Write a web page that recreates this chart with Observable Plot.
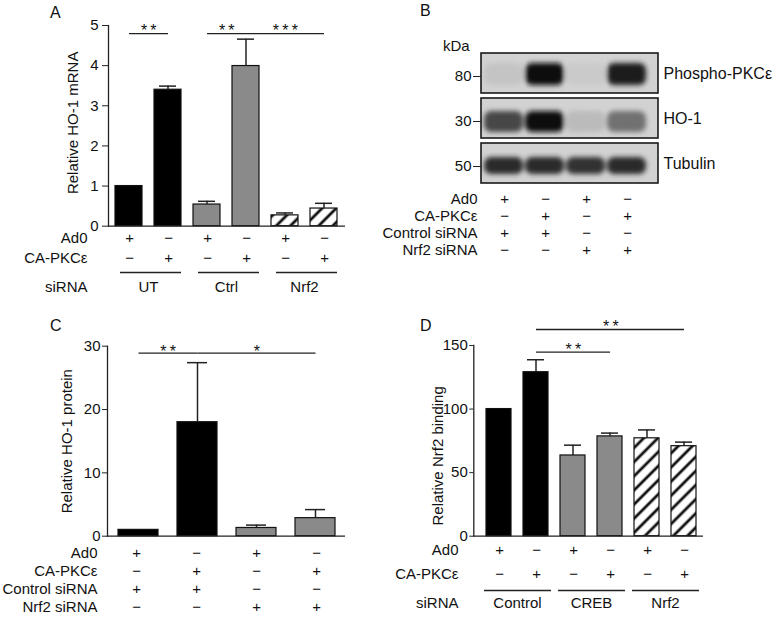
<!DOCTYPE html>
<html><head><meta charset="utf-8">
<script src="https://cdn.jsdelivr.net/npm/d3@7"></script>
<script src="https://cdn.jsdelivr.net/npm/@observablehq/plot@0.6"></script>
<style>
body{margin:0;background:#fff;}
#fig{position:relative;width:777px;height:621px;font-family:"Liberation Sans",Arial,Helvetica,sans-serif;color:#111;background:#fff;}
#fig svg{position:absolute;left:0;top:0;}
.lbl{position:absolute;line-height:1;white-space:nowrap;}
</style></head><body><div id="fig"></div>
<script>
// ---------- Panel A data ----------
const aCats = ["UT|Ad0","UT|CA","Ctrl|Ad0","Ctrl|CA","Nrf2|Ad0","Nrf2|CA"];
const aGroups = ["UT","UT","Ctrl","Ctrl","Nrf2","Nrf2"];
const aMean = [1.0, 3.40, 0.54, 3.99, 0.27, 0.44];
const aSem  = [0, 0.09, 0.08, 0.67, 0.06, 0.13];
const aAd0 = ["+","−","+","−","+","−"];
const aCA  = ["−","+","−","+","−","+"];
const aSigFrom = ["UT|Ad0","Ctrl|Ad0","Ctrl|CA"];
const aSigTo   = ["UT|CA","Ctrl|CA","Nrf2|CA"];
const aSigY    = [4.8, 4.8, 4.8];
const aSigLabel = ["**","**","***"];
const aTicks = [0,1,2,3,4,5];

// ---------- Panel B data ----------
const blotRows = ["Phospho-PKCε","HO-1","Tubulin"];
const blotKDa = [80, 30, 50];
const lanes = ["1","2","3","4"];
const phosphoBand = [0.07, 1.0, 0.04, 0.95];
const ho1Band     = [0.72, 1.0, 0.12, 0.5];
const tubulinBand = [0.86, 0.86, 0.82, 0.86];
const bAd0 = ["+","−","+","−"];
const bCA  = ["−","+","−","+"];
const bCtrl = ["+","+","−","−"];
const bNrf2 = ["−","−","+","+"];

// ---------- Panel C data ----------
const cCats = ["Ctrl|Ad0","Ctrl|CA","Nrf2|Ad0","Nrf2|CA"];
const cGroups = ["Control","Control","Nrf2","Nrf2"];
const cMean = [1.0, 18.0, 1.3, 2.85];
const cSem  = [0, 9.4, 0.45, 1.35];
const cSigFrom = ["Ctrl|Ad0","Ctrl|CA"];
const cSigTo   = ["Ctrl|CA","Nrf2|CA"];
const cSigY    = [28.9, 28.9];
const cSigLabel = ["**","*"];
const cTicks = [0,10,20,30];

// ---------- Panel D data ----------
const dCats = ["Control|Ad0","Control|CA","CREB|Ad0","CREB|CA","Nrf2|Ad0","Nrf2|CA"];
const dGroups = ["Control","Control","CREB","CREB","Nrf2","Nrf2"];
const dMean = [100, 129, 63.5, 78.5, 77, 70.8];
const dSem  = [0, 9.8, 8.1, 2.6, 6.6, 3.2];
const dAd0 = ["+","−","+","−","+","−"];
const dCA  = ["−","+","−","+","−","+"];
const dSigFrom = ["Control|CA","Control|CA"];
const dSigTo   = ["CREB|CA","Nrf2|CA"];
const dSigY    = [144.8, 162.6];
const dSigLabel = ["**","**"];
const dTicks = [0,50,100,150];

// ---------- helpers ----------
const FONT = '"Liberation Sans", Arial, Helvetica, sans-serif';
const W = 777, H = 621;
const fig = document.getElementById("fig");
const baseStyle = {background:"transparent", fontFamily:FONT, color:"#111", overflow:"visible"};

function hatchDefs(id) {
  return () => {
    const defs = d3.create("svg:defs");
    const p = defs.append("pattern").attr("id", id).attr("patternUnits","userSpaceOnUse")
      .attr("width", 10).attr("height", 10).attr("patternTransform","rotate(45)");
    p.append("rect").attr("width",10).attr("height",10).attr("fill","white");
    p.append("line").attr("x1",5).attr("y1",-1).attr("x2",5).attr("y2",11)
      .attr("stroke","#111").attr("stroke-width",2.8);
    return defs.node();
  };
}
function blurDefs(id) {
  return () => {
    const defs = d3.create("svg:defs");
    defs.append("filter").attr("id", id).attr("x","-30%").attr("y","-80%").attr("width","160%").attr("height","260%")
      .append("feGaussianBlur").attr("stdDeviation", 2.6);
    return defs.node();
  };
}

function barPanel(o) {
  const n = o.cats.length;
  const step = (o.xRange[1]-o.xRange[0])/(n - o.padI + 2*o.padO);
  const data = o.cats.map((c,i)=>({cat:c, group:o.groups[i], mean:o.mean[i], sem:o.sem[i]}));
  const errs = data.filter(d=>d.sem>0);
  const sig = o.sigFrom.map((f,i)=>({from:f, to:o.sigTo[i], y:o.sigY[i], label:o.sigLabel[i]}));
  const groupsU = [...new Set(o.groups)];
  const marks = [];
  if (o.hatchId) marks.push(hatchDefs(o.hatchId));
  marks.push(Plot.barY(data, {x:"cat", y:"mean", fill:"group", stroke:"#111", strokeWidth:1.2}));
  marks.push(Plot.ruleX(errs, {x:"cat", y1:"mean", y2:d=>d.mean+d.sem, stroke:"#222", strokeWidth:1.5}));
  marks.push(Plot.tickY(errs, {x:"cat", y:d=>d.mean+d.sem, stroke:"#222", strokeWidth:1.5, inset:o.capInset}));
  marks.push(Plot.ruleY([0], {stroke:"#222", strokeWidth:1.3}));
  marks.push(Plot.frame({anchor:"left", stroke:"#222", strokeWidth:1.3}));
  marks.push(Plot.axisY({ticks:o.yTicks, tickFormat:d=>String(d), tickSize:o.tickSize, tickPadding:o.tickPadding, fontSize:15, label:null, stroke:"#222"}));
  marks.push(Plot.link(sig, {x1:"from", x2:"to", y1:"y", y2:"y", stroke:"#222", strokeWidth:1.3}));
  sig.forEach(d => {
    const k = o.cats.indexOf(d.to) - o.cats.indexOf(d.from);
    marks.push(Plot.text([d], {x:"from", y:"y", text:t=>t.label.split("").join("\u2009"), dx:k*step/2, dy:o.starDy, fontSize:16}));
  });
  marks.push(Plot.text([o.yLabel], {frameAnchor:"left", textAnchor:"middle", rotate:-90, dx:o.labelDx, dy:o.labelDy, fontSize:15}));
  return Plot.plot({width:W, height:H, marginLeft:o.left, marginRight:o.right, marginTop:o.top, marginBottom:o.bottom,
    x:{domain:o.cats, range:o.xRange, paddingInner:o.padI, paddingOuter:o.padO, axis:null},
    y:{domain:o.yDomain, axis:null},
    color:{domain:groupsU, range:o.fills},
    style:baseStyle, marks});
}

function signTable(o) {
  const cells = [];
  o.rowNames.forEach((r, ri) => o.cats.forEach((c, ci) => cells.push({row:r, cat:c, sign:o.rows[ri][ci]})));
  return Plot.plot({width:W, height:H, marginLeft:o.left, marginRight:0, marginTop:o.top, marginBottom:o.bottom,
    x:{domain:o.cats, range:o.xRange, paddingInner:o.padI, paddingOuter:o.padO, axis:null},
    y:{type:"point", domain:o.rowNames, padding:0, axis:null},
    style:baseStyle,
    marks:[
      Plot.text(cells, {x:"cat", y:"row", text:"sign", fontSize:15, fill:"#111"}),
      Plot.axisY({tickSize:0, tickPadding:0, fontSize:15, label:null})
    ]});
}

function groupRow(o) {
  const groupsU = [...new Set(o.groups)];
  return Plot.plot({width:W, height:H, marginLeft:o.left, marginRight:0, marginTop:o.top, marginBottom:o.bottom,
    x:{domain:groupsU, range:o.xRange, paddingInner:o.padI/2, paddingOuter:o.padO/2, axis:null},
    y:{type:"point", domain:["rule","label"], padding:0, axis:null},
    style:baseStyle,
    marks:[
      Plot.tickY(groupsU, {x:d=>d, y:()=>"rule", stroke:"#222", strokeWidth:1.3, insetLeft:o.insetL, insetRight:o.insetR}),
      Plot.text(groupsU, {x:d=>d, y:()=>"label", fontSize:15}),
      Plot.text([o.title], {y:()=>"label", frameAnchor:"left", textAnchor:"end", fontSize:15})
    ]});
}

function blotPanel() {
  const intens = [phosphoBand, ho1Band, tubulinBand];
  const bands = [];
  blotRows.forEach((r, ri) => lanes.forEach((l, li) => bands.push({row:r, lane:l, v:intens[ri][li]})));
  const insets = {"Phospho-PKCε":[10,8], "HO-1":[13,6], "Tubulin":[14,9]};
  const marks = [blurDefs("blotBlur"), Plot.cell(blotRows, {y:d=>d, fill:"#d2d2d2"})];
  blotRows.forEach(r => marks.push(Plot.cell(bands.filter(d=>d.row===r),
    {x:"lane", y:"row", fill:"v", insetTop:insets[r][0], insetBottom:insets[r][1], insetLeft:1, insetRight:1, rx:7})));
  marks.push(Plot.cell(blotRows, {y:d=>d, fill:"none", stroke:"#1a1a1a", strokeWidth:1.6}));
  marks.push(Plot.axisY({anchor:"left", tickSize:8, tickPadding:2, fontSize:15, dy:3,
    tickFormat:d=>String(blotKDa[blotRows.indexOf(d)]), label:null, stroke:"#222"}));
  marks.push(Plot.axisY({anchor:"right", tickSize:0, tickPadding:5, fontSize:16, label:null}));
  const svg = Plot.plot({width:W, height:H, marginLeft:481, marginRight:119, marginTop:53, marginBottom:438,
    x:{domain:lanes, range:[482,648], padding:0, axis:null},
    y:{domain:blotRows, paddingInner:0.12, paddingOuter:0, axis:null},
    color:{type:"linear", domain:[0,1], range:["#d2d2d2","#101010"]},
    style:baseStyle, marks});
  // soften the band cells (the ones whose rects carry their own fill)
  d3.select(svg).selectAll("g").filter(function() {
    return this.querySelector(":scope > rect[fill]") !== null && this.getAttribute("fill") === null;
  }).attr("filter","url(#blotBlur)");
  return svg;
}

function label(text, left, top, size) {
  const d = document.createElement("div");
  d.className = "lbl"; d.textContent = text;
  d.style.left = left + "px"; d.style.top = top + "px"; d.style.fontSize = size + "px";
  fig.appendChild(d);
}

// ---------- Panel A ----------
const aX = {xRange:[106.1,345.9], padI:0.315, padO:0.2};
fig.appendChild(barPanel({cats:aCats, groups:aGroups, mean:aMean, sem:aSem,
  sigFrom:aSigFrom, sigTo:aSigTo, sigY:aSigY, sigLabel:aSigLabel,
  yDomain:[0,5], yTicks:aTicks, yLabel:"Relative HO-1 mRNA",
  fills:["#000","#8a8a8a","url(#hatchA)"], hatchId:"hatchA",
  left:108, right:432, top:25, bottom:395.3, ...aX,
  capInset:5, tickSize:6, tickPadding:4, labelDx:-35, labelDy:-3, starDy:-3}));
fig.appendChild(signTable({cats:aCats, rowNames:["Ad0","CA-PKCε"], rows:[aAd0, aCA],
  left:87, top:238, bottom:363, ...aX}));
fig.appendChild(groupRow({groups:aGroups, title:"siRNA", left:87, top:272, bottom:334, ...aX, insetL:5, insetR:0}));

// ---------- Panel B ----------
fig.appendChild(blotPanel());
fig.appendChild(signTable({cats:lanes, rowNames:["Ad0","CA-PKCε","Control siRNA","Nrf2 siRNA"],
  rows:[bAd0, bCA, bCtrl, bNrf2], left:477, top:197.5, bottom:370.5, xRange:[482,648], padI:0, padO:0}));

// ---------- Panel C ----------
const cX = {xRange:[105.1,346.9], padI:0.325, padO:0.2};
fig.appendChild(barPanel({cats:cCats, groups:cGroups, mean:cMean, sem:cSem,
  sigFrom:cSigFrom, sigTo:cSigTo, sigY:cSigY, sigLabel:cSigLabel,
  yDomain:[0,30], yTicks:cTicks, yLabel:"Relative HO-1 protein",
  fills:["#000","#8a8a8a"], hatchId:null,
  left:107, right:432, top:345.7, bottom:85.3, ...cX,
  capInset:10, tickSize:5, tickPadding:2, labelDx:-40, labelDy:0, starDy:-1.5}));
fig.appendChild(signTable({cats:cCats, rowNames:["Ad0","CA-PKCε","Control siRNA","Nrf2 siRNA"],
  rows:[bAd0, bCA, bCtrl, bNrf2], left:97, top:552.5, bottom:13.5, ...cX}));

// ---------- Panel D ----------
const dX = {xRange:[477.5,704.8], padI:0.33, padO:0.2};
fig.appendChild(barPanel({cats:dCats, groups:dGroups, mean:dMean, sem:dSem,
  sigFrom:dSigFrom, sigTo:dSigTo, sigY:dSigY, sigLabel:dSigLabel,
  yDomain:[0,150], yTicks:dTicks, yLabel:"Relative Nrf2 binding",
  fills:["#000","#8a8a8a","url(#hatchD)"], hatchId:"hatchD",
  left:473.3, right:74, top:345, bottom:85.3, ...dX,
  capInset:4, tickSize:4, tickPadding:2, labelDx:-36, labelDy:15, starDy:-2.5}));
fig.appendChild(signTable({cats:dCats, rowNames:["Ad0","CA-PKCε"], rows:[dAd0, dCA],
  left:458, top:550, bottom:47, ...dX}));
fig.appendChild(groupRow({groups:dGroups, title:"siRNA", left:458, top:589.3, bottom:18, ...dX, insetL:-2, insetR:-3}));

// ---------- panel letters ----------
label("A", 50, 5, 16);
label("B", 420, 3, 16);
label("C", 50, 318, 16);
label("D", 420, 318, 16);
label("kDa", 443, 38, 15);
</script></body></html>
